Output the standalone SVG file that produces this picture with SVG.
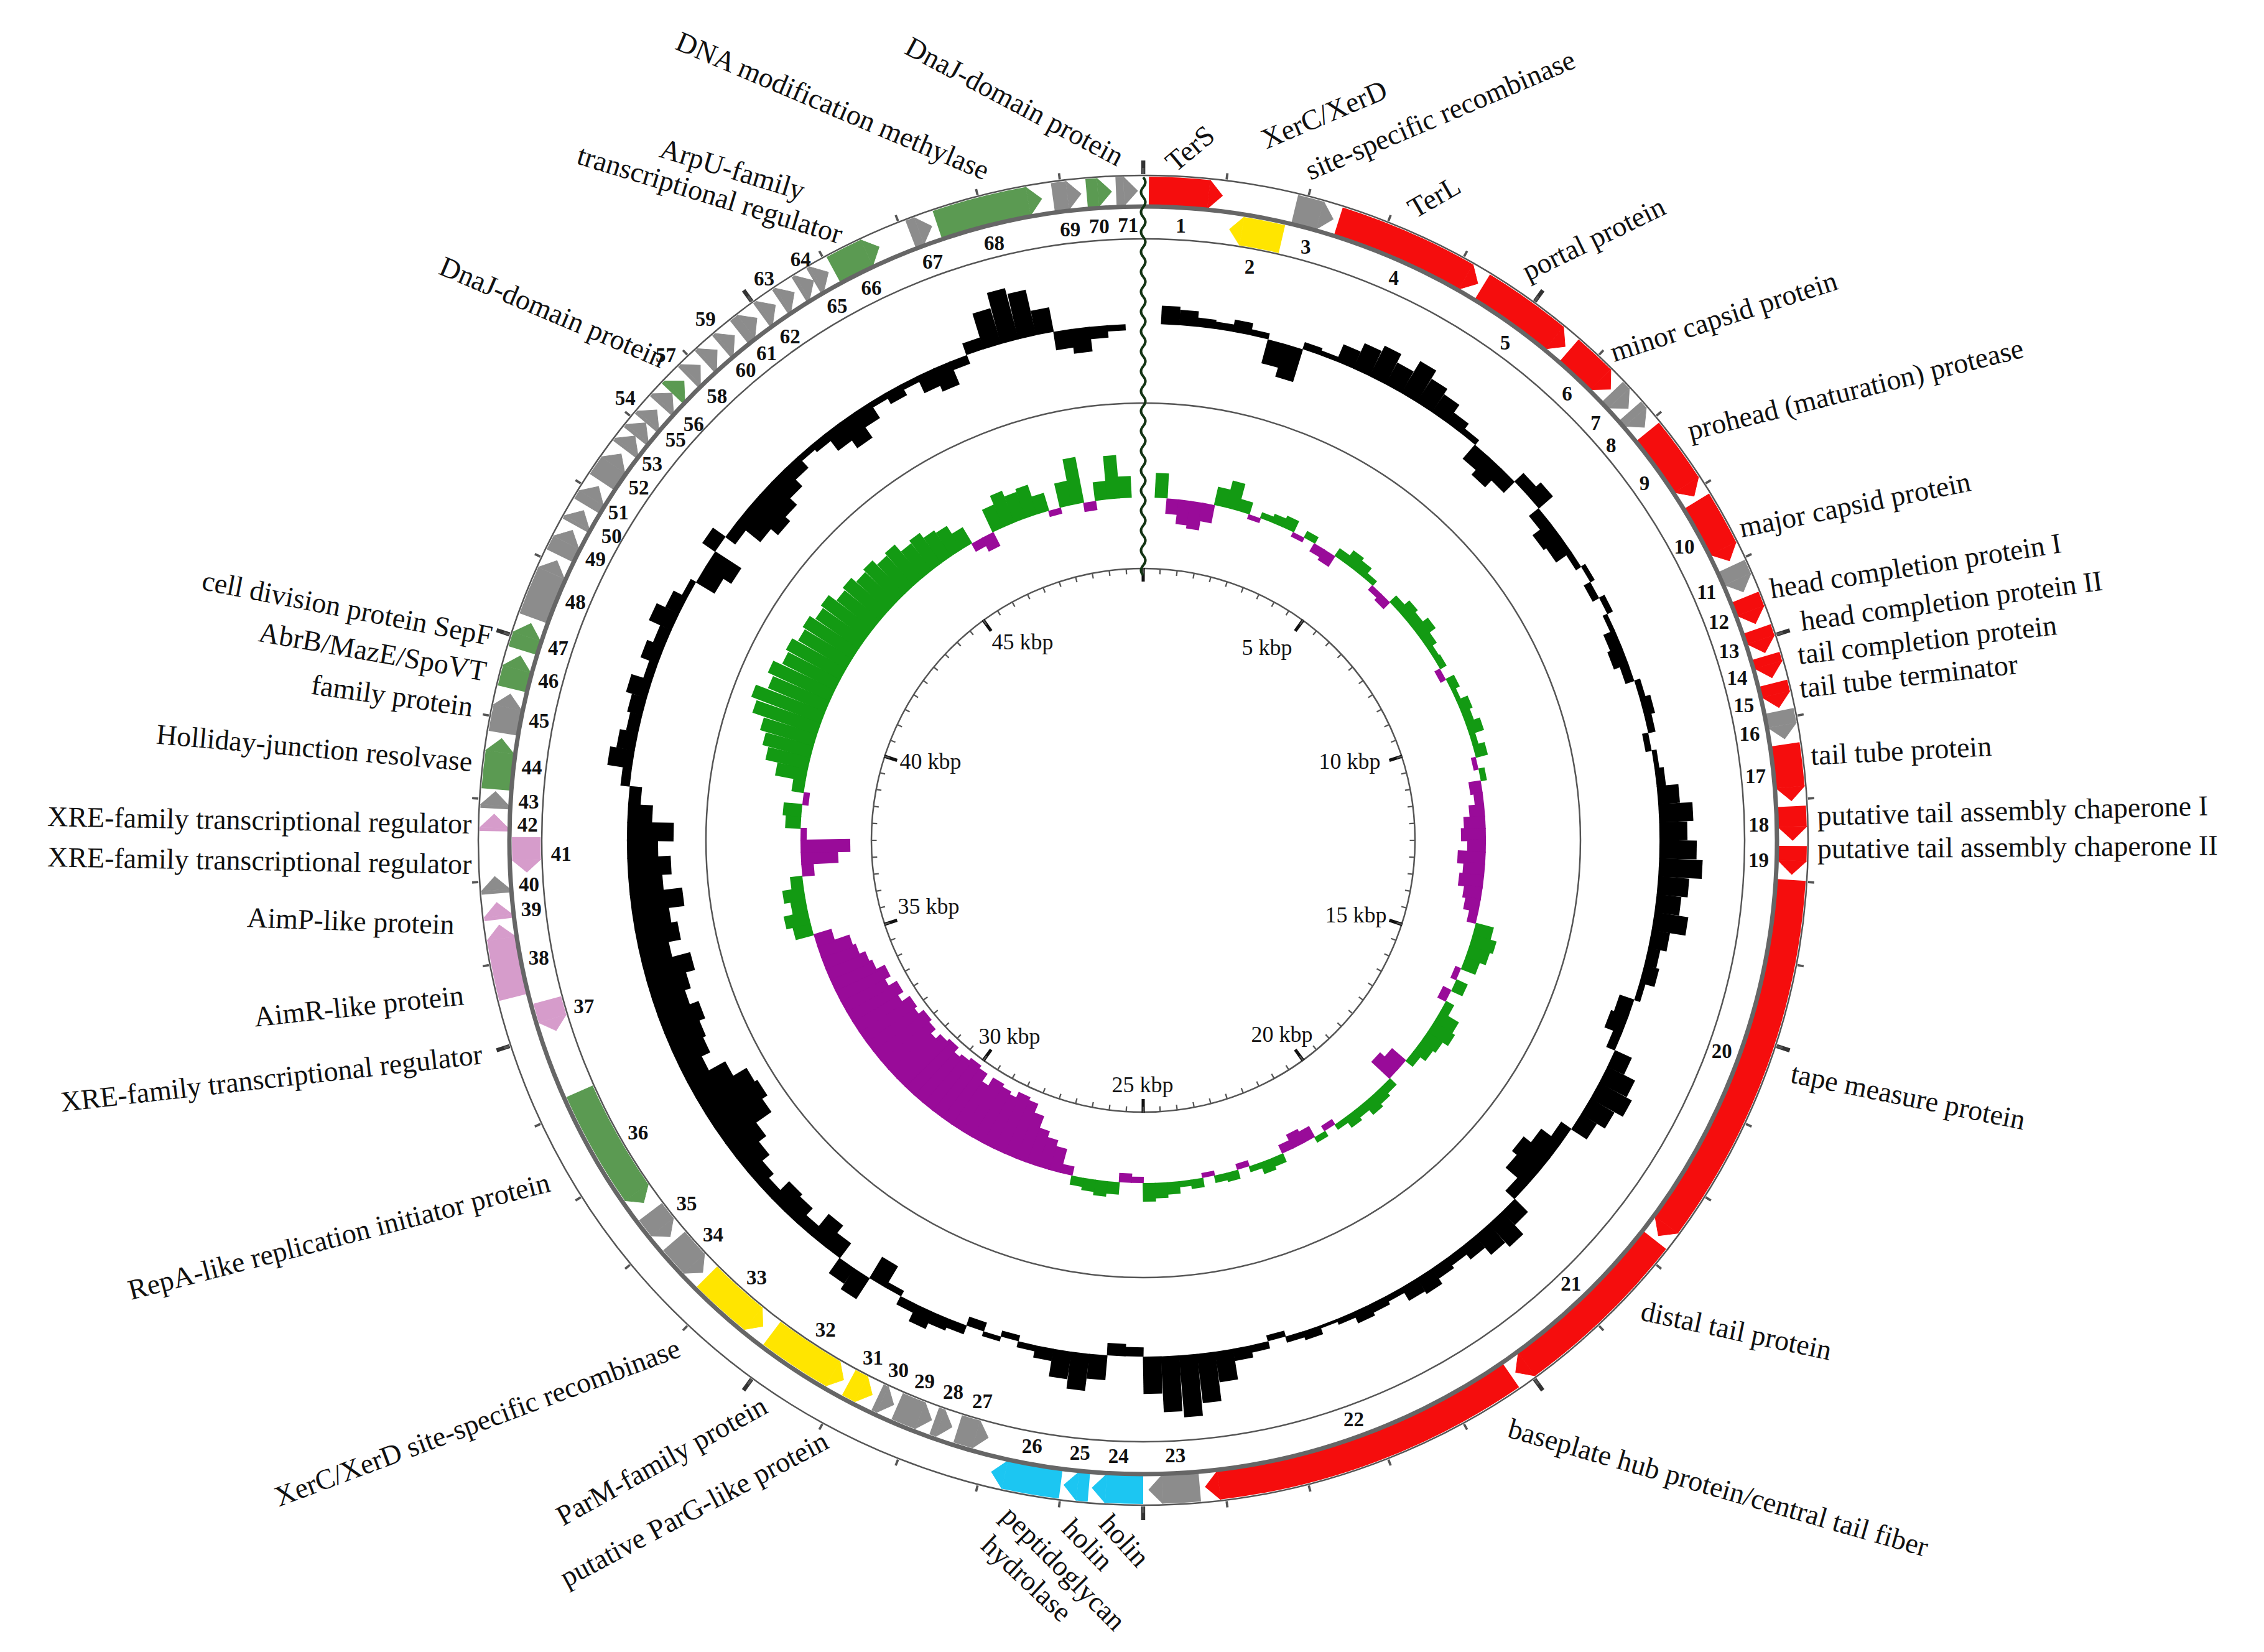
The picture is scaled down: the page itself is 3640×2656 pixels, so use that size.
<svg xmlns="http://www.w3.org/2000/svg" xmlns:xlink="http://www.w3.org/1999/xlink" width="3640" height="2656" viewBox="0 0 3640 2656">
<style>
.r{fill:#f50d0d;stroke:#f50d0d}.gy{fill:#8c8c8c;stroke:#8c8c8c}.gn{fill:#5b9a52;stroke:#5b9a52}.y{fill:#ffe500;stroke:#ffe500}.c{fill:#1cc6f2;stroke:#1cc6f2}.p{fill:#d69ccb;stroke:#d69ccb}
circle.o{fill:none;stroke-width:46}
use{stroke-width:1}
.ring{fill:none;stroke:#555;stroke-width:2.5}
.k line{stroke:#000;stroke-width:30}
.gg line{stroke:#139a13;stroke-width:21}
.pp line{stroke:#990b99;stroke-width:21}
.lab{font-family:"Liberation Serif",serif;font-size:46px;fill:#111}
.num{font-family:"Liberation Serif",serif;font-size:33px;font-weight:bold;fill:#111;text-anchor:middle}
.kb{font-family:"Liberation Serif",serif;font-size:36px;fill:#111;text-anchor:middle}
</style>
<defs>
<polygon id="tO" points="0,-1067 0,-1021 22,-1044"/>
<polygon id="tI" points="0,-1015 0,-969 -20,-992"/>
</defs>
<rect width="3640" height="2656" fill="#fff"/>
<g transform="translate(1838 1351)">
<g id="rings">
<circle class="ring" r="1069" stroke="#777" stroke-width="2"/>
<circle class="ring" r="967" stroke-width="2"/>
<circle class="ring" r="703"/>
<circle class="ring" r="437"/>
<circle r="1082" fill="none" stroke="#333" stroke-width="22" pathLength="360" stroke-dasharray="0.35 35.65" stroke-dashoffset="0.17" transform="rotate(-90)"/>
<circle r="1076" fill="none" stroke="#555" stroke-width="10" pathLength="360" stroke-dasharray="0.2 7" stroke-dashoffset="0.1" transform="rotate(-90)"/>
<circle r="427" fill="none" stroke="#111" stroke-width="22" pathLength="360" stroke-dasharray="0.7 35.3" stroke-dashoffset="0.35" transform="rotate(-90)"/>
<circle r="433" fill="none" stroke="#555" stroke-width="9" pathLength="360" stroke-dasharray="0.3 3.3" stroke-dashoffset="0.15" transform="rotate(-90)"/>
</g>
<g id="gc-content" class="k">
<line y1="-830" y2="-860" transform="rotate(3)"/><line y1="-830" y2="-855" transform="rotate(5)"/><line y1="-830" y2="-845" transform="rotate(7)"/><line y1="-830" y2="-842" transform="rotate(9)"/><line y1="-830" y2="-850" transform="rotate(11)"/><line y1="-830" y2="-840" transform="rotate(13)"/><line y1="-830" y2="-790" transform="rotate(15)"/><line y1="-830" y2="-775" transform="rotate(17)"/><line y1="-830" y2="-842" transform="rotate(19)"/><line y1="-830" y2="-838" transform="rotate(21)"/><line y1="-830" y2="-860" transform="rotate(23)"/><line y1="-830" y2="-875" transform="rotate(25)"/><line y1="-830" y2="-885" transform="rotate(27)"/><line y1="-830" y2="-870" transform="rotate(29)"/><line y1="-830" y2="-890" transform="rotate(31)"/><line y1="-830" y2="-875" transform="rotate(33)"/><line y1="-830" y2="-865" transform="rotate(35)"/><line y1="-830" y2="-850" transform="rotate(37)"/><line y1="-830" y2="-840" transform="rotate(39)"/><line y1="-830" y2="-800" transform="rotate(41)"/><line y1="-830" y2="-790" transform="rotate(43)"/><line y1="-830" y2="-805" transform="rotate(45)"/><line y1="-830" y2="-850" transform="rotate(47)"/><line y1="-830" y2="-860" transform="rotate(49)"/><line y1="-830" y2="-810" transform="rotate(51)"/><line y1="-830" y2="-795" transform="rotate(53)"/><line y1="-830" y2="-800" transform="rotate(55)"/><line y1="-830" y2="-820" transform="rotate(57)"/><line y1="-830" y2="-838" transform="rotate(59)"/><line y1="-830" y2="-818" transform="rotate(61)"/><line y1="-830" y2="-840" transform="rotate(63)"/><line y1="-830" y2="-822" transform="rotate(65)"/><line y1="-830" y2="-810" transform="rotate(67)"/><line y1="-830" y2="-805" transform="rotate(69)"/><line y1="-830" y2="-815" transform="rotate(71)"/><line y1="-830" y2="-840" transform="rotate(73)"/><line y1="-830" y2="-848" transform="rotate(75)"/><line y1="-830" y2="-842" transform="rotate(77)"/><line y1="-830" y2="-820" transform="rotate(79)"/><line y1="-830" y2="-838" transform="rotate(81)"/><line y1="-830" y2="-845" transform="rotate(83)"/><line y1="-830" y2="-865" transform="rotate(85)"/><line y1="-830" y2="-885" transform="rotate(87)"/><line y1="-830" y2="-875" transform="rotate(89)"/><line y1="-830" y2="-890" transform="rotate(91)"/><line y1="-830" y2="-900" transform="rotate(93)"/><line y1="-830" y2="-880" transform="rotate(95)"/><line y1="-830" y2="-870" transform="rotate(97)"/><line y1="-830" y2="-885" transform="rotate(99)"/><line y1="-830" y2="-860" transform="rotate(101)"/><line y1="-830" y2="-850" transform="rotate(103)"/><line y1="-830" y2="-855" transform="rotate(105)"/><line y1="-830" y2="-840" transform="rotate(107)"/><line y1="-830" y2="-805" transform="rotate(109)"/><line y1="-830" y2="-800" transform="rotate(111)"/><line y1="-830" y2="-815" transform="rotate(113)"/><line y1="-830" y2="-860" transform="rotate(115)"/><line y1="-830" y2="-880" transform="rotate(117)"/><line y1="-830" y2="-890" transform="rotate(119)"/><line y1="-830" y2="-875" transform="rotate(121)"/><line y1="-830" y2="-860" transform="rotate(123)"/><line y1="-830" y2="-810" transform="rotate(125)"/><line y1="-830" y2="-790" transform="rotate(127)"/><line y1="-830" y2="-775" transform="rotate(129)"/><line y1="-830" y2="-785" transform="rotate(131)"/><line y1="-830" y2="-810" transform="rotate(133)"/><line y1="-830" y2="-860" transform="rotate(135)"/><line y1="-830" y2="-880" transform="rotate(137)"/><line y1="-830" y2="-870" transform="rotate(139)"/><line y1="-830" y2="-855" transform="rotate(141)"/><line y1="-830" y2="-845" transform="rotate(143)"/><line y1="-830" y2="-850" transform="rotate(145)"/><line y1="-830" y2="-860" transform="rotate(147)"/><line y1="-830" y2="-855" transform="rotate(149)"/><line y1="-830" y2="-840" transform="rotate(151)"/><line y1="-830" y2="-845" transform="rotate(153)"/><line y1="-830" y2="-850" transform="rotate(155)"/><line y1="-830" y2="-840" transform="rotate(157)"/><line y1="-830" y2="-835" transform="rotate(159)"/><line y1="-830" y2="-845" transform="rotate(161)"/><line y1="-830" y2="-840" transform="rotate(163)"/><line y1="-830" y2="-820" transform="rotate(165)"/><line y1="-830" y2="-842" transform="rotate(167)"/><line y1="-830" y2="-850" transform="rotate(169)"/><line y1="-830" y2="-880" transform="rotate(171)"/><line y1="-830" y2="-910" transform="rotate(173)"/><line y1="-830" y2="-930" transform="rotate(175)"/><line y1="-830" y2="-920" transform="rotate(177)"/><line y1="-830" y2="-890" transform="rotate(179)"/><line y1="-830" y2="-815" transform="rotate(181)"/><line y1="-830" y2="-810" transform="rotate(183)"/><line y1="-830" y2="-870" transform="rotate(185)"/><line y1="-830" y2="-890" transform="rotate(187)"/><line y1="-830" y2="-875" transform="rotate(189)"/><line y1="-830" y2="-850" transform="rotate(191)"/><line y1="-830" y2="-840" transform="rotate(193)"/><line y1="-830" y2="-820" transform="rotate(195)"/><line y1="-830" y2="-838" transform="rotate(197)"/><line y1="-830" y2="-815" transform="rotate(199)"/><line y1="-830" y2="-845" transform="rotate(201)"/><line y1="-830" y2="-850" transform="rotate(203)"/><line y1="-830" y2="-860" transform="rotate(205)"/><line y1="-830" y2="-845" transform="rotate(207)"/><line y1="-830" y2="-820" transform="rotate(209)"/><line y1="-830" y2="-790" transform="rotate(211)"/><line y1="-830" y2="-870" transform="rotate(213)"/><line y1="-830" y2="-860" transform="rotate(215)"/><line y1="-830" y2="-800" transform="rotate(217)"/><line y1="-830" y2="-785" transform="rotate(219)"/><line y1="-830" y2="-810" transform="rotate(221)"/><line y1="-830" y2="-795" transform="rotate(223)"/><line y1="-830" y2="-790" transform="rotate(225)"/><line y1="-830" y2="-810" transform="rotate(227)"/><line y1="-830" y2="-800" transform="rotate(229)"/><line y1="-830" y2="-785" transform="rotate(231)"/><line y1="-830" y2="-770" transform="rotate(233)"/><line y1="-830" y2="-740" transform="rotate(235)"/><line y1="-830" y2="-730" transform="rotate(237)"/><line y1="-830" y2="-735" transform="rotate(239)"/><line y1="-830" y2="-760" transform="rotate(241)"/><line y1="-830" y2="-790" transform="rotate(243)"/><line y1="-830" y2="-775" transform="rotate(245)"/><line y1="-830" y2="-770" transform="rotate(247)"/><line y1="-830" y2="-760" transform="rotate(249)"/><line y1="-830" y2="-775" transform="rotate(251)"/><line y1="-830" y2="-765" transform="rotate(253)"/><line y1="-830" y2="-750" transform="rotate(255)"/><line y1="-830" y2="-780" transform="rotate(257)"/><line y1="-830" y2="-760" transform="rotate(259)"/><line y1="-830" y2="-770" transform="rotate(261)"/><line y1="-830" y2="-745" transform="rotate(263)"/><line y1="-830" y2="-775" transform="rotate(265)"/><line y1="-830" y2="-760" transform="rotate(267)"/><line y1="-830" y2="-780" transform="rotate(269)"/><line y1="-830" y2="-755" transform="rotate(271)"/><line y1="-830" y2="-790" transform="rotate(273)"/><line y1="-830" y2="-810" transform="rotate(275)"/><line y1="-830" y2="-845" transform="rotate(277)"/><line y1="-830" y2="-870" transform="rotate(279)"/><line y1="-830" y2="-860" transform="rotate(281)"/><line y1="-830" y2="-850" transform="rotate(283)"/><line y1="-830" y2="-855" transform="rotate(285)"/><line y1="-830" y2="-865" transform="rotate(287)"/><line y1="-830" y2="-845" transform="rotate(289)"/><line y1="-830" y2="-860" transform="rotate(291)"/><line y1="-830" y2="-850" transform="rotate(293)"/><line y1="-830" y2="-870" transform="rotate(295)"/><line y1="-830" y2="-855" transform="rotate(297)"/><line y1="-830" y2="-840" transform="rotate(299)"/><line y1="-830" y2="-795" transform="rotate(301)"/><line y1="-830" y2="-780" transform="rotate(303)"/><line y1="-830" y2="-855" transform="rotate(305)"/><line y1="-830" y2="-810" transform="rotate(307)"/><line y1="-830" y2="-780" transform="rotate(309)"/><line y1="-830" y2="-765" transform="rotate(311)"/><line y1="-830" y2="-775" transform="rotate(313)"/><line y1="-830" y2="-790" transform="rotate(315)"/><line y1="-830" y2="-805" transform="rotate(317)"/><line y1="-830" y2="-820" transform="rotate(319)"/><line y1="-830" y2="-815" transform="rotate(321)"/><line y1="-830" y2="-795" transform="rotate(323)"/><line y1="-830" y2="-780" transform="rotate(325)"/><line y1="-830" y2="-800" transform="rotate(327)"/><line y1="-830" y2="-820" transform="rotate(329)"/><line y1="-830" y2="-810" transform="rotate(331)"/><line y1="-830" y2="-820" transform="rotate(333)"/><line y1="-830" y2="-800" transform="rotate(335)"/><line y1="-830" y2="-790" transform="rotate(337)"/><line y1="-830" y2="-815" transform="rotate(339)"/><line y1="-830" y2="-850" transform="rotate(341)"/><line y1="-830" y2="-890" transform="rotate(343)"/><line y1="-830" y2="-915" transform="rotate(345)"/><line y1="-830" y2="-905" transform="rotate(347)"/><line y1="-830" y2="-870" transform="rotate(349)"/><line y1="-830" y2="-800" transform="rotate(351)"/><line y1="-830" y2="-790" transform="rotate(353)"/><line y1="-830" y2="-810" transform="rotate(355)"/><line y1="-830" y2="-820" transform="rotate(357)"/>
</g>
<g id="gc-skew-pos" class="gg">
<line y1="-551" y2="-591" transform="rotate(3)"/><line y1="-551" y2="-581" transform="rotate(13)"/><line y1="-551" y2="-596" transform="rotate(15)"/><line y1="-551" y2="-571" transform="rotate(17)"/><line y1="-551" y2="-561" transform="rotate(21)"/><line y1="-551" y2="-566" transform="rotate(23)"/><line y1="-551" y2="-571" transform="rotate(25)"/><line y1="-551" y2="-563" transform="rotate(29)"/><line y1="-551" y2="-566" transform="rotate(35)"/><line y1="-551" y2="-576" transform="rotate(37)"/><line y1="-551" y2="-571" transform="rotate(39)"/><line y1="-551" y2="-561" transform="rotate(41)"/><line y1="-551" y2="-566" transform="rotate(47)"/><line y1="-551" y2="-576" transform="rotate(49)"/><line y1="-551" y2="-571" transform="rotate(51)"/><line y1="-551" y2="-581" transform="rotate(53)"/><line y1="-551" y2="-569" transform="rotate(55)"/><line y1="-551" y2="-561" transform="rotate(57)"/><line y1="-551" y2="-563" transform="rotate(59)"/><line y1="-551" y2="-566" transform="rotate(63)"/><line y1="-551" y2="-559" transform="rotate(65)"/><line y1="-551" y2="-571" transform="rotate(67)"/><line y1="-551" y2="-566" transform="rotate(69)"/><line y1="-551" y2="-576" transform="rotate(71)"/><line y1="-551" y2="-561" transform="rotate(73)"/><line y1="-551" y2="-571" transform="rotate(75)"/><line y1="-551" y2="-561" transform="rotate(79)"/><line y1="-551" y2="-581" transform="rotate(105)"/><line y1="-551" y2="-591" transform="rotate(107)"/><line y1="-551" y2="-586" transform="rotate(109)"/><line y1="-551" y2="-576" transform="rotate(111)"/><line y1="-551" y2="-571" transform="rotate(115)"/><line y1="-551" y2="-566" transform="rotate(119)"/><line y1="-551" y2="-586" transform="rotate(121)"/><line y1="-551" y2="-591" transform="rotate(123)"/><line y1="-551" y2="-581" transform="rotate(125)"/><line y1="-551" y2="-576" transform="rotate(127)"/><line y1="-551" y2="-566" transform="rotate(129)"/><line y1="-551" y2="-566" transform="rotate(135)"/><line y1="-551" y2="-571" transform="rotate(137)"/><line y1="-551" y2="-576" transform="rotate(139)"/><line y1="-551" y2="-566" transform="rotate(141)"/><line y1="-551" y2="-571" transform="rotate(143)"/><line y1="-551" y2="-561" transform="rotate(145)"/><line y1="-551" y2="-561" transform="rotate(149)"/><line y1="-551" y2="-566" transform="rotate(157)"/><line y1="-551" y2="-571" transform="rotate(159)"/><line y1="-551" y2="-561" transform="rotate(161)"/><line y1="-551" y2="-566" transform="rotate(165)"/><line y1="-551" y2="-563" transform="rotate(167)"/><line y1="-551" y2="-566" transform="rotate(171)"/><line y1="-551" y2="-561" transform="rotate(173)"/><line y1="-551" y2="-571" transform="rotate(175)"/><line y1="-551" y2="-576" transform="rotate(177)"/><line y1="-551" y2="-581" transform="rotate(179)"/><line y1="-551" y2="-571" transform="rotate(185)"/><line y1="-551" y2="-576" transform="rotate(187)"/><line y1="-551" y2="-571" transform="rotate(189)"/><line y1="-551" y2="-566" transform="rotate(191)"/><line y1="-551" y2="-581" transform="rotate(255)"/><line y1="-551" y2="-591" transform="rotate(257)"/><line y1="-551" y2="-576" transform="rotate(259)"/><line y1="-551" y2="-586" transform="rotate(261)"/><line y1="-551" y2="-571" transform="rotate(263)"/><line y1="-551" y2="-576" transform="rotate(273)"/><line y1="-551" y2="-581" transform="rotate(275)"/><line y1="-551" y2="-571" transform="rotate(279)"/><line y1="-551" y2="-601" transform="rotate(281)"/><line y1="-551" y2="-621" transform="rotate(283)"/><line y1="-551" y2="-631" transform="rotate(285)"/><line y1="-551" y2="-641" transform="rotate(287)"/><line y1="-551" y2="-661" transform="rotate(289)"/><line y1="-551" y2="-671" transform="rotate(291)"/><line y1="-551" y2="-651" transform="rotate(293)"/><line y1="-551" y2="-661" transform="rotate(295)"/><line y1="-551" y2="-646" transform="rotate(297)"/><line y1="-551" y2="-651" transform="rotate(299)"/><line y1="-551" y2="-641" transform="rotate(301)"/><line y1="-551" y2="-646" transform="rotate(303)"/><line y1="-551" y2="-636" transform="rotate(305)"/><line y1="-551" y2="-641" transform="rotate(307)"/><line y1="-551" y2="-626" transform="rotate(309)"/><line y1="-551" y2="-631" transform="rotate(311)"/><line y1="-551" y2="-621" transform="rotate(313)"/><line y1="-551" y2="-626" transform="rotate(315)"/><line y1="-551" y2="-616" transform="rotate(317)"/><line y1="-551" y2="-621" transform="rotate(319)"/><line y1="-551" y2="-606" transform="rotate(321)"/><line y1="-551" y2="-611" transform="rotate(323)"/><line y1="-551" y2="-601" transform="rotate(325)"/><line y1="-551" y2="-596" transform="rotate(327)"/><line y1="-551" y2="-581" transform="rotate(329)"/><line y1="-551" y2="-591" transform="rotate(335)"/><line y1="-551" y2="-606" transform="rotate(337)"/><line y1="-551" y2="-596" transform="rotate(339)"/><line y1="-551" y2="-601" transform="rotate(341)"/><line y1="-551" y2="-581" transform="rotate(343)"/><line y1="-551" y2="-591" transform="rotate(347)"/><line y1="-551" y2="-626" transform="rotate(349)"/><line y1="-551" y2="-581" transform="rotate(353)"/><line y1="-551" y2="-621" transform="rotate(355)"/><line y1="-551" y2="-586" transform="rotate(357)"/>
</g>
<g id="gc-skew-neg" class="pp">
<line y1="-551" y2="-526" transform="rotate(5)"/><line y1="-551" y2="-511" transform="rotate(7)"/><line y1="-551" y2="-506" transform="rotate(9)"/><line y1="-551" y2="-521" transform="rotate(11)"/><line y1="-551" y2="-543" transform="rotate(19)"/><line y1="-551" y2="-543" transform="rotate(27)"/><line y1="-551" y2="-536" transform="rotate(31)"/><line y1="-551" y2="-531" transform="rotate(33)"/><line y1="-551" y2="-541" transform="rotate(43)"/><line y1="-551" y2="-536" transform="rotate(45)"/><line y1="-551" y2="-541" transform="rotate(61)"/><line y1="-551" y2="-543" transform="rotate(77)"/><line y1="-551" y2="-531" transform="rotate(81)"/><line y1="-551" y2="-536" transform="rotate(83)"/><line y1="-551" y2="-526" transform="rotate(85)"/><line y1="-551" y2="-516" transform="rotate(87)"/><line y1="-551" y2="-511" transform="rotate(89)"/><line y1="-551" y2="-521" transform="rotate(91)"/><line y1="-551" y2="-506" transform="rotate(93)"/><line y1="-551" y2="-516" transform="rotate(95)"/><line y1="-551" y2="-511" transform="rotate(97)"/><line y1="-551" y2="-521" transform="rotate(99)"/><line y1="-551" y2="-526" transform="rotate(101)"/><line y1="-551" y2="-536" transform="rotate(103)"/><line y1="-551" y2="-541" transform="rotate(113)"/><line y1="-551" y2="-536" transform="rotate(117)"/><line y1="-551" y2="-521" transform="rotate(131)"/><line y1="-551" y2="-511" transform="rotate(133)"/><line y1="-551" y2="-541" transform="rotate(147)"/><line y1="-551" y2="-531" transform="rotate(151)"/><line y1="-551" y2="-526" transform="rotate(153)"/><line y1="-551" y2="-536" transform="rotate(155)"/><line y1="-551" y2="-541" transform="rotate(163)"/><line y1="-551" y2="-543" transform="rotate(169)"/><line y1="-551" y2="-541" transform="rotate(181)"/><line y1="-551" y2="-536" transform="rotate(183)"/><line y1="-551" y2="-536" transform="rotate(193)"/><line y1="-551" y2="-511" transform="rotate(195)"/><line y1="-551" y2="-501" transform="rotate(197)"/><line y1="-551" y2="-491" transform="rotate(199)"/><line y1="-551" y2="-471" transform="rotate(201)"/><line y1="-551" y2="-456" transform="rotate(203)"/><line y1="-551" y2="-451" transform="rotate(205)"/><line y1="-551" y2="-461" transform="rotate(207)"/><line y1="-551" y2="-456" transform="rotate(209)"/><line y1="-551" y2="-451" transform="rotate(211)"/><line y1="-551" y2="-466" transform="rotate(213)"/><line y1="-551" y2="-451" transform="rotate(215)"/><line y1="-551" y2="-446" transform="rotate(217)"/><line y1="-551" y2="-451" transform="rotate(219)"/><line y1="-551" y2="-456" transform="rotate(221)"/><line y1="-551" y2="-446" transform="rotate(223)"/><line y1="-551" y2="-451" transform="rotate(225)"/><line y1="-551" y2="-461" transform="rotate(227)"/><line y1="-551" y2="-451" transform="rotate(229)"/><line y1="-551" y2="-446" transform="rotate(231)"/><line y1="-551" y2="-456" transform="rotate(233)"/><line y1="-551" y2="-451" transform="rotate(235)"/><line y1="-551" y2="-466" transform="rotate(237)"/><line y1="-551" y2="-456" transform="rotate(239)"/><line y1="-551" y2="-471" transform="rotate(241)"/><line y1="-551" y2="-461" transform="rotate(243)"/><line y1="-551" y2="-476" transform="rotate(245)"/><line y1="-551" y2="-481" transform="rotate(247)"/><line y1="-551" y2="-491" transform="rotate(249)"/><line y1="-551" y2="-496" transform="rotate(251)"/><line y1="-551" y2="-521" transform="rotate(253)"/><line y1="-551" y2="-531" transform="rotate(265)"/><line y1="-551" y2="-491" transform="rotate(267)"/><line y1="-551" y2="-471" transform="rotate(269)"/><line y1="-551" y2="-541" transform="rotate(271)"/><line y1="-551" y2="-541" transform="rotate(277)"/><line y1="-551" y2="-536" transform="rotate(331)"/><line y1="-551" y2="-526" transform="rotate(333)"/><line y1="-551" y2="-541" transform="rotate(345)"/><line y1="-551" y2="-536" transform="rotate(351)"/>
</g>
<g id="genes">
<g id="gene-1"><circle class="o r" r="1044" pathLength="360" stroke-dasharray="5.3 400" transform="rotate(-89.5)"/><use href="#tO" class="r" transform="rotate(5.8)"/></g>
<g id="gene-2"><circle class="o y" r="992" pathLength="360" stroke-dasharray="3.8 400" transform="rotate(-80.8)"/><use href="#tI" class="y" transform="rotate(9.2)"/></g>
<g id="gene-3"><circle class="o gy" r="1044" pathLength="360" stroke-dasharray="2.3 400" transform="rotate(-76.5)"/><use href="#tO" class="gy" transform="rotate(15.8)"/></g>
<g id="gene-4"><circle class="o r" r="1044" pathLength="360" stroke-dasharray="12.3 400" transform="rotate(-72.5)"/><use href="#tO" class="r" transform="rotate(29.8)"/></g>
<g id="gene-5"><circle class="o r" r="1044" pathLength="360" stroke-dasharray="7.8 400" transform="rotate(-58.5)"/><use href="#tO" class="r" transform="rotate(39.3)"/></g>
<g id="gene-6"><circle class="o r" r="1044" pathLength="360" stroke-dasharray="3.8 400" transform="rotate(-49)"/><use href="#tO" class="r" transform="rotate(44.8)"/></g>
<g id="gene-7"><circle class="o gy" r="1044" pathLength="360" stroke-dasharray="0.8 400" transform="rotate(-43.7)"/><use href="#tO" class="gy" transform="rotate(47.1)"/></g>
<g id="gene-8"><circle class="o gy" r="1044" pathLength="360" stroke-dasharray="0.7 400" transform="rotate(-41.4)"/><use href="#tO" class="gy" transform="rotate(49.3)"/></g>
<g id="gene-9"><circle class="o r" r="1044" pathLength="360" stroke-dasharray="5.8 400" transform="rotate(-39)"/><use href="#tO" class="r" transform="rotate(56.8)"/></g>
<g id="gene-10"><circle class="o r" r="1044" pathLength="360" stroke-dasharray="4.8 400" transform="rotate(-31.5)"/><use href="#tO" class="r" transform="rotate(63.3)"/></g>
<g id="gene-11"><circle class="o gy" r="1044" pathLength="360" stroke-dasharray="1.3 400" transform="rotate(-25)"/><use href="#tO" class="gy" transform="rotate(66.3)"/></g>
<g id="gene-12"><circle class="o r" r="1044" pathLength="360" stroke-dasharray="1.3 400" transform="rotate(-22)"/><use href="#tO" class="r" transform="rotate(69.3)"/></g>
<g id="gene-13"><circle class="o r" r="1044" pathLength="360" stroke-dasharray="1.0 400" transform="rotate(-19)"/><use href="#tO" class="r" transform="rotate(72)"/></g>
<g id="gene-14"><circle class="o r" r="1044" pathLength="360" stroke-dasharray="0.8 400" transform="rotate(-16.5)"/><use href="#tO" class="r" transform="rotate(74.3)"/></g>
<g id="gene-15"><circle class="o r" r="1044" pathLength="360" stroke-dasharray="1.0 400" transform="rotate(-14)"/><use href="#tO" class="r" transform="rotate(77)"/></g>
<g id="gene-16"><circle class="o gy" r="1044" pathLength="360" stroke-dasharray="1.3 400" transform="rotate(-11.5)"/><use href="#tO" class="gy" transform="rotate(79.8)"/></g>
<g id="gene-17"><circle class="o r" r="1044" pathLength="360" stroke-dasharray="3.8 400" transform="rotate(-8.5)"/><use href="#tO" class="r" transform="rotate(85.3)"/></g>
<g id="gene-18"><circle class="o r" r="1044" pathLength="360" stroke-dasharray="1.8 400" transform="rotate(-3)"/><use href="#tO" class="r" transform="rotate(88.8)"/></g>
<g id="gene-19"><circle class="o r" r="1044" pathLength="360" stroke-dasharray="1.3 400" transform="rotate(0.5)"/><use href="#tO" class="r" transform="rotate(91.8)"/></g>
<g id="gene-20"><circle class="o r" r="1044" pathLength="360" stroke-dasharray="32.8 400" transform="rotate(3.5)"/><use href="#tO" class="r" transform="rotate(126.3)"/></g>
<g id="gene-21"><circle class="o r" r="1044" pathLength="360" stroke-dasharray="15.8 400" transform="rotate(38)"/><use href="#tO" class="r" transform="rotate(143.8)"/></g>
<g id="gene-22"><circle class="o r" r="1044" pathLength="360" stroke-dasharray="27.8 400" transform="rotate(55.5)"/><use href="#tO" class="r" transform="rotate(173.3)"/></g>
<g id="gene-23"><circle class="o gy" r="1044" pathLength="360" stroke-dasharray="3.3 400" transform="rotate(85)"/><use href="#tO" class="gy" transform="rotate(178.3)"/></g>
<g id="gene-24"><circle class="o c" r="1044" pathLength="360" stroke-dasharray="3.3 400" transform="rotate(90)"/><use href="#tO" class="c" transform="rotate(183.3)"/></g>
<g id="gene-25"><circle class="o c" r="1044" pathLength="360" stroke-dasharray="1.0 400" transform="rotate(94.8)"/><use href="#tO" class="c" transform="rotate(185.8)"/></g>
<g id="gene-26"><circle class="o c" r="1044" pathLength="360" stroke-dasharray="5.0 400" transform="rotate(97.3)"/><use href="#tO" class="c" transform="rotate(192.3)"/></g>
<g id="gene-27"><circle class="o gy" r="992" pathLength="360" stroke-dasharray="1.8 400" transform="rotate(105.7)"/><use href="#tI" class="gy" transform="rotate(195.7)"/></g>
<g id="gene-28"><circle class="o gy" r="992" pathLength="360" stroke-dasharray="0.6 400" transform="rotate(109.2)"/><use href="#tI" class="gy" transform="rotate(199.2)"/></g>
<g id="gene-29"><circle class="o gy" r="992" pathLength="360" stroke-dasharray="2.3 400" transform="rotate(111.2)"/><use href="#tI" class="gy" transform="rotate(201.2)"/></g>
<g id="gene-30"><circle class="o gy" r="992" pathLength="360" stroke-dasharray="0.5 400" transform="rotate(115)"/><use href="#tI" class="gy" transform="rotate(205)"/></g>
<g id="gene-31"><circle class="o y" r="992" pathLength="360" stroke-dasharray="1.3 400" transform="rotate(117.2)"/><use href="#tI" class="y" transform="rotate(207.2)"/></g>
<g id="gene-32"><circle class="o y" r="992" pathLength="360" stroke-dasharray="6.8 400" transform="rotate(120.2)"/><use href="#tI" class="y" transform="rotate(210.2)"/></g>
<g id="gene-33"><circle class="o y" r="992" pathLength="360" stroke-dasharray="5.8 400" transform="rotate(129.2)"/><use href="#tI" class="y" transform="rotate(219.2)"/></g>
<g id="gene-34"><circle class="o gy" r="992" pathLength="360" stroke-dasharray="2.8 400" transform="rotate(136.7)"/><use href="#tI" class="gy" transform="rotate(226.7)"/></g>
<g id="gene-35"><circle class="o gy" r="992" pathLength="360" stroke-dasharray="1.8 400" transform="rotate(141.2)"/><use href="#tI" class="gy" transform="rotate(231.2)"/></g>
<g id="gene-36"><circle class="o gn" r="992" pathLength="360" stroke-dasharray="10.8 400" transform="rotate(145.2)"/><use href="#tI" class="gn" transform="rotate(235.2)"/></g>
<g id="gene-37"><circle class="o p" r="992" pathLength="360" stroke-dasharray="1.8 400" transform="rotate(163.2)"/><use href="#tI" class="p" transform="rotate(253.2)"/></g>
<g id="gene-38"><circle class="o p" r="1044" pathLength="360" stroke-dasharray="5.3 400" transform="rotate(166)"/><use href="#tO" class="p" transform="rotate(261.3)"/></g>
<g id="gene-39"><circle class="o p" r="1044" pathLength="360" stroke-dasharray="0.3 400" transform="rotate(173)"/><use href="#tO" class="p" transform="rotate(263.3)"/></g>
<g id="gene-40"><circle class="o gy" r="1044" pathLength="360" stroke-dasharray="0.3 400" transform="rotate(175.3)"/><use href="#tO" class="gy" transform="rotate(265.6)"/></g>
<g id="gene-41"><circle class="o p" r="992" pathLength="360" stroke-dasharray="2.1 400" transform="rotate(178.2)"/><use href="#tI" class="p" transform="rotate(268.2)"/></g>
<g id="gene-42"><circle class="o p" r="1044" pathLength="360" stroke-dasharray="0.3 400" transform="rotate(180.8)"/><use href="#tO" class="p" transform="rotate(271.1)"/></g>
<g id="gene-43"><circle class="o gy" r="1044" pathLength="360" stroke-dasharray="0.3 400" transform="rotate(182.8)"/><use href="#tO" class="gy" transform="rotate(273.1)"/></g>
<g id="gene-44"><circle class="o gn" r="1044" pathLength="360" stroke-dasharray="3.3 400" transform="rotate(184.5)"/><use href="#tO" class="gn" transform="rotate(277.8)"/></g>
<g id="gene-45"><circle class="o gy" r="1044" pathLength="360" stroke-dasharray="2.3 400" transform="rotate(189.5)"/><use href="#tO" class="gy" transform="rotate(281.8)"/></g>
<g id="gene-46"><circle class="o gn" r="1044" pathLength="360" stroke-dasharray="1.8 400" transform="rotate(193.5)"/><use href="#tO" class="gn" transform="rotate(285.3)"/></g>
<g id="gene-47"><circle class="o gn" r="1044" pathLength="360" stroke-dasharray="1.3 400" transform="rotate(197)"/><use href="#tO" class="gn" transform="rotate(288.3)"/></g>
<g id="gene-48"><circle class="o gy" r="1044" pathLength="360" stroke-dasharray="4.3 400" transform="rotate(200)"/><use href="#tO" class="gy" transform="rotate(294.3)"/></g>
<g id="gene-49"><circle class="o gy" r="1044" pathLength="360" stroke-dasharray="1.3 400" transform="rotate(206)"/><use href="#tO" class="gy" transform="rotate(297.3)"/></g>
<g id="gene-50"><circle class="o gy" r="1044" pathLength="360" stroke-dasharray="0.3 400" transform="rotate(209)"/><use href="#tO" class="gy" transform="rotate(299.3)"/></g>
<g id="gene-51"><circle class="o gy" r="1044" pathLength="360" stroke-dasharray="0.8 400" transform="rotate(211)"/><use href="#tO" class="gy" transform="rotate(301.8)"/></g>
<g id="gene-52"><circle class="o gy" r="1044" pathLength="360" stroke-dasharray="1.8 400" transform="rotate(213.5)"/><use href="#tO" class="gy" transform="rotate(305.3)"/></g>
<g id="gene-53"><circle class="o gy" r="1044" pathLength="360" stroke-dasharray="0.3 400" transform="rotate(217)"/><use href="#tO" class="gy" transform="rotate(307.3)"/></g>
<g id="gene-54"><circle class="o gy" r="1044" pathLength="360" stroke-dasharray="0.3 400" transform="rotate(218.5)"/><use href="#tO" class="gy" transform="rotate(308.8)"/></g>
<g id="gene-55"><circle class="o gy" r="1044" pathLength="360" stroke-dasharray="0.3 400" transform="rotate(220)"/><use href="#tO" class="gy" transform="rotate(310.3)"/></g>
<g id="gene-56"><circle class="o gy" r="1044" pathLength="360" stroke-dasharray="0.3 400" transform="rotate(222)"/><use href="#tO" class="gy" transform="rotate(312.3)"/></g>
<g id="gene-57"><circle class="o gn" r="1044" pathLength="360" stroke-dasharray="0.3 400" transform="rotate(223.5)"/><use href="#tO" class="gn" transform="rotate(313.8)"/></g>
<g id="gene-58"><circle class="o gy" r="1044" pathLength="360" stroke-dasharray="0.3 400" transform="rotate(225.5)"/><use href="#tO" class="gy" transform="rotate(315.8)"/></g>
<g id="gene-59"><circle class="o gy" r="1044" pathLength="360" stroke-dasharray="0.3 400" transform="rotate(227.5)"/><use href="#tO" class="gy" transform="rotate(317.8)"/></g>
<g id="gene-60"><circle class="o gy" r="1044" pathLength="360" stroke-dasharray="0.3 400" transform="rotate(229.5)"/><use href="#tO" class="gy" transform="rotate(319.8)"/></g>
<g id="gene-61"><circle class="o gy" r="1044" pathLength="360" stroke-dasharray="0.8 400" transform="rotate(231.5)"/><use href="#tO" class="gy" transform="rotate(322.3)"/></g>
<g id="gene-62"><circle class="o gy" r="1044" pathLength="360" stroke-dasharray="0.3 400" transform="rotate(234)"/><use href="#tO" class="gy" transform="rotate(324.3)"/></g>
<g id="gene-63"><circle class="o gy" r="1044" pathLength="360" stroke-dasharray="0.3 400" transform="rotate(236)"/><use href="#tO" class="gy" transform="rotate(326.3)"/></g>
<g id="gene-64"><circle class="o gy" r="1044" pathLength="360" stroke-dasharray="0.3 400" transform="rotate(238)"/><use href="#tO" class="gy" transform="rotate(328.3)"/></g>
<g id="gene-65"><circle class="o gy" r="1044" pathLength="360" stroke-dasharray="0.3 400" transform="rotate(239.5)"/><use href="#tO" class="gy" transform="rotate(329.8)"/></g>
<g id="gene-66"><circle class="o gn" r="1044" pathLength="360" stroke-dasharray="3.3 400" transform="rotate(241.5)"/><use href="#tO" class="gn" transform="rotate(334.8)"/></g>
<g id="gene-67"><circle class="o gy" r="1044" pathLength="360" stroke-dasharray="0.8 400" transform="rotate(249)"/><use href="#tO" class="gy" transform="rotate(339.8)"/></g>
<g id="gene-68"><circle class="o gn" r="1044" pathLength="360" stroke-dasharray="8.3 400" transform="rotate(251.5)"/><use href="#tO" class="gn" transform="rotate(349.8)"/></g>
<g id="gene-69"><circle class="o gy" r="1044" pathLength="360" stroke-dasharray="1.3 400" transform="rotate(262)"/><use href="#tO" class="gy" transform="rotate(353.3)"/></g>
<g id="gene-70"><circle class="o gn" r="1044" pathLength="360" stroke-dasharray="1.0 400" transform="rotate(265)"/><use href="#tO" class="gn" transform="rotate(356)"/></g>
<g id="gene-71"><circle class="o gy" r="1044" pathLength="360" stroke-dasharray="0.7 400" transform="rotate(267.6)"/><use href="#tO" class="gy" transform="rotate(358.3)"/></g>
</g>
<circle id="strand-band" r="1019" fill="none" stroke="#666" stroke-width="7"/>
<g id="gene-numbers" class="num">
<text dy="0.35em" transform="rotate(3.5) translate(0,-990) rotate(-3.5)">1</text>
<text dy="0.35em" transform="rotate(10.5) translate(0,-938) rotate(-10.5)">2</text>
<text dy="0.35em" transform="rotate(15.3) translate(0,-990) rotate(-15.3)">3</text>
<text dy="0.35em" transform="rotate(24) translate(0,-990) rotate(-24)">4</text>
<text dy="0.35em" transform="rotate(36) translate(0,-990) rotate(-36)">5</text>
<text dy="0.35em" transform="rotate(43.5) translate(0,-990) rotate(-43.5)">6</text>
<text dy="0.35em" transform="rotate(47.3) translate(0,-990) rotate(-47.3)">7</text>
<text dy="0.35em" transform="rotate(49.8) translate(0,-985) rotate(-49.8)">8</text>
<text dy="0.35em" transform="rotate(54.5) translate(0,-990) rotate(-54.5)">9</text>
<text dy="0.35em" transform="rotate(61.5) translate(0,-990) rotate(-61.5)">10</text>
<text dy="0.35em" transform="rotate(66.2) translate(0,-990) rotate(-66.2)">11</text>
<text dy="0.35em" transform="rotate(69.2) translate(0,-990) rotate(-69.2)">12</text>
<text dy="0.35em" transform="rotate(72.1) translate(0,-990) rotate(-72.1)">13</text>
<text dy="0.35em" transform="rotate(74.7) translate(0,-990) rotate(-74.7)">14</text>
<text dy="0.35em" transform="rotate(77.3) translate(0,-990) rotate(-77.3)">15</text>
<text dy="0.35em" transform="rotate(80) translate(0,-990) rotate(-80)">16</text>
<text dy="0.35em" transform="rotate(84) translate(0,-990) rotate(-84)">17</text>
<text dy="0.35em" transform="rotate(88.5) translate(0,-990) rotate(-88.5)">18</text>
<text dy="0.35em" transform="rotate(91.8) translate(0,-990) rotate(-91.8)">19</text>
<text dy="0.35em" transform="rotate(110) translate(0,-990) rotate(-110)">20</text>
<text dy="0.35em" transform="rotate(136) translate(0,-990) rotate(-136)">21</text>
<text dy="0.35em" transform="rotate(160) translate(0,-990) rotate(-160)">22</text>
<text dy="0.35em" transform="rotate(177) translate(0,-990) rotate(-177)">23</text>
<text dy="0.35em" transform="rotate(182.3) translate(0,-990) rotate(-182.3)">24</text>
<text dy="0.35em" transform="rotate(185.9) translate(0,-990) rotate(-185.9)">25</text>
<text dy="0.35em" transform="rotate(190.4) translate(0,-990) rotate(-190.4)">26</text>
<text dy="0.35em" transform="rotate(196) translate(0,-938) rotate(-196)">27</text>
<text dy="0.35em" transform="rotate(199) translate(0,-938) rotate(-199)">28</text>
<text dy="0.35em" transform="rotate(202) translate(0,-938) rotate(-202)">29</text>
<text dy="0.35em" transform="rotate(204.8) translate(0,-938) rotate(-204.8)">30</text>
<text dy="0.35em" transform="rotate(207.6) translate(0,-938) rotate(-207.6)">31</text>
<text dy="0.35em" transform="rotate(213) translate(0,-938) rotate(-213)">32</text>
<text dy="0.35em" transform="rotate(221.5) translate(0,-938) rotate(-221.5)">33</text>
<text dy="0.35em" transform="rotate(227.5) translate(0,-938) rotate(-227.5)">34</text>
<text dy="0.35em" transform="rotate(231.5) translate(0,-938) rotate(-231.5)">35</text>
<text dy="0.35em" transform="rotate(240) translate(0,-938) rotate(-240)">36</text>
<text dy="0.35em" transform="rotate(253.5) translate(0,-938) rotate(-253.5)">37</text>
<text dy="0.35em" transform="rotate(259) translate(0,-990) rotate(-259)">38</text>
<text dy="0.35em" transform="rotate(263.6) translate(0,-990) rotate(-263.6)">39</text>
<text dy="0.35em" transform="rotate(265.9) translate(0,-990) rotate(-265.9)">40</text>
<text dy="0.35em" transform="rotate(268.7) translate(0,-936) rotate(-268.7)">41</text>
<text dy="0.35em" transform="rotate(271.5) translate(0,-990) rotate(-271.5)">42</text>
<text dy="0.35em" transform="rotate(273.6) translate(0,-990) rotate(-273.6)">43</text>
<text dy="0.35em" transform="rotate(276.8) translate(0,-990) rotate(-276.8)">44</text>
<text dy="0.35em" transform="rotate(281.2) translate(0,-990) rotate(-281.2)">45</text>
<text dy="0.35em" transform="rotate(285) translate(0,-990) rotate(-285)">46</text>
<text dy="0.35em" transform="rotate(288.2) translate(0,-990) rotate(-288.2)">47</text>
<text dy="0.35em" transform="rotate(292.8) translate(0,-990) rotate(-292.8)">48</text>
<text dy="0.35em" transform="rotate(297.2) translate(0,-990) rotate(-297.2)">49</text>
<text dy="0.35em" transform="rotate(299.8) translate(0,-985) rotate(-299.8)">50</text>
<text dy="0.35em" transform="rotate(302) translate(0,-995) rotate(-302)">51</text>
<text dy="0.35em" transform="rotate(305) translate(0,-990) rotate(-305)">52</text>
<text dy="0.35em" transform="rotate(307.5) translate(0,-995) rotate(-307.5)">53</text>
<text dy="0.35em" transform="rotate(310.5) translate(0,-1095) rotate(-310.5)">54</text>
<text dy="0.35em" transform="rotate(310.6) translate(0,-990) rotate(-310.6)">55</text>
<text dy="0.35em" transform="rotate(312.8) translate(0,-985) rotate(-312.8)">56</text>
<text dy="0.35em" transform="rotate(315.5) translate(0,-1095) rotate(-315.5)">57</text>
<text dy="0.35em" transform="rotate(316.2) translate(0,-990) rotate(-316.2)">58</text>
<text dy="0.35em" transform="rotate(320) translate(0,-1095) rotate(-320)">59</text>
<text dy="0.35em" transform="rotate(319.8) translate(0,-990) rotate(-319.8)">60</text>
<text dy="0.35em" transform="rotate(322.3) translate(0,-990) rotate(-322.3)">61</text>
<text dy="0.35em" transform="rotate(325) translate(0,-990) rotate(-325)">62</text>
<text dy="0.35em" transform="rotate(326) translate(0,-1090) rotate(-326)">63</text>
<text dy="0.35em" transform="rotate(329.5) translate(0,-1085) rotate(-329.5)">64</text>
<text dy="0.35em" transform="rotate(330.2) translate(0,-990) rotate(-330.2)">65</text>
<text dy="0.35em" transform="rotate(333.8) translate(0,-990) rotate(-333.8)">66</text>
<text dy="0.35em" transform="rotate(340) translate(0,-990) rotate(-340)">67</text>
<text dy="0.35em" transform="rotate(346) translate(0,-990) rotate(-346)">68</text>
<text dy="0.35em" transform="rotate(353.2) translate(0,-990) rotate(-353.2)">69</text>
<text dy="0.35em" transform="rotate(355.9) translate(0,-990) rotate(-355.9)">70</text>
<text dy="0.35em" transform="rotate(358.6) translate(0,-990) rotate(-358.6)">71</text>
</g>
</g>
<g id="connectors">
<path d="M1838 285 q7 8 0 16 t0 16 t0 16 t0 16 t0 16 t0 16 t0 16 t0 16 t0 16 t0 16 t0 16 t0 16 t0 16 t0 16 t0 16 t0 16 t0 16 t0 16 t0 16 t0 16 t0 16 t0 16 t0 16 t0 16 t0 16 t0 16 t0 16 t0 16 t0 16 t0 16 t0 16 t0 16 t0 16 t0 16 t0 16 t0 16 t0 16 t0 16 t0 16 t0 16" fill="none" stroke="#143414" stroke-width="4"/>
</g>
<g id="kbp-labels" class="kb">
<text x="1644" y="1044">45 kbp</text>
<text x="2037" y="1053">5 kbp</text>
<text x="1496" y="1236">40 kbp</text>
<text x="2170" y="1236">10 kbp</text>
<text x="1493" y="1469">35 kbp</text>
<text x="2180" y="1483">15 kbp</text>
<text x="1623" y="1678">30 kbp</text>
<text x="2061" y="1675">20 kbp</text>
<text x="1837" y="1756">25 kbp</text>
</g>
<g id="annotations" class="lab">
<text x="1890" y="278" transform="rotate(-40 1890 278)">TerS</text>
<text x="2036" y="240" transform="rotate(-23 2036 240)">XerC/XerD</text>
<text x="2107" y="290" transform="rotate(-23 2107 290)">site-specific recombinase</text>
<text x="2275" y="352" transform="rotate(-30 2275 352)">TerL</text>
<text x="2457" y="452" transform="rotate(-26 2457 452)">portal protein</text>
<text x="2595" y="582" transform="rotate(-18 2595 582)">minor capsid protein</text>
<text x="2718" y="708" transform="rotate(-14 2718 708)">prohead (maturation) protease</text>
<text x="2800" y="864" transform="rotate(-11.5 2800 864)">major capsid protein</text>
<text x="2848" y="962" transform="rotate(-9 2848 962)">head completion protein I</text>
<text x="2897" y="1014" transform="rotate(-7.7 2897 1014)">head completion protein II</text>
<text x="2892" y="1068" transform="rotate(-6.6 2892 1068)">tail completion protein</text>
<text x="2895" y="1122" transform="rotate(-6.4 2895 1122)">tail tube terminator</text>
<text x="2912" y="1230" transform="rotate(-3 2912 1230)">tail tube protein</text>
<text x="2922" y="1327" transform="rotate(-1.5 2922 1327)">putative tail assembly chaperone I</text>
<text x="2922" y="1380" transform="rotate(-0.5 2922 1380)">putative tail assembly chaperone II</text>
<text x="2877" y="1740" transform="rotate(11.5 2877 1740)">tape measure protein</text>
<text x="2636" y="2122" transform="rotate(12 2636 2122)">distal tail protein</text>
<text x="2422" y="2310" transform="rotate(16 2422 2310)">baseplate hub protein/central tail fiber</text>
<text x="1765" y="2452" transform="rotate(48 1765 2452)">holin</text>
<text x="1705" y="2460" transform="rotate(46 1705 2460)">holin</text>
<text x="1607" y="2440" transform="rotate(45 1607 2440)">peptidoglycan</text>
<text x="1575" y="2488" transform="rotate(43 1575 2488)">hydrolase</text>
<g text-anchor="end">
<text x="1796" y="268" transform="rotate(28 1796 268)">DnaJ-domain protein</text>
<text x="1582" y="290" transform="rotate(23 1582 290)">DNA modification methylase</text>
<text x="1288" y="322" transform="rotate(17 1288 322)">ArpU-family</text>
<text x="1349" y="392" transform="rotate(17 1349 392)">transcriptional regulator</text>
<text x="1062" y="592" transform="rotate(23 1062 592)">DnaJ-domain protein</text>
<text x="788" y="1038" transform="rotate(11 788 1038)">cell division protein SepF</text>
<text x="779" y="1095" transform="rotate(10 779 1095)">AbrB/MazE/SpoVT</text>
<text x="758" y="1152" transform="rotate(8 758 1152)">family protein</text>
<text x="758" y="1240" transform="rotate(5 758 1240)">Holliday-junction resolvase</text>
<text x="758" y="1340" transform="rotate(1 758 1340)">XRE-family transcriptional regulator</text>
<text x="758" y="1405" transform="rotate(1 758 1405)">XRE-family transcriptional regulator</text>
<text x="730" y="1502" transform="rotate(2 730 1502)">AimP-like protein</text>
<text x="747" y="1615" transform="rotate(-6 747 1615)">AimR-like protein</text>
<text x="777" y="1710" transform="rotate(-6.5 777 1710)">XRE-family transcriptional regulator</text>
<text x="887" y="1915" transform="rotate(-14.5 887 1915)">RepA-like replication initiator protein</text>
<text x="1097" y="2180" transform="rotate(-20.5 1097 2180)">XerC/XerD site-specific recombinase</text>
<text x="1237" y="2270" transform="rotate(-29 1237 2270)">ParM-family protein</text>
<text x="1335" y="2327" transform="rotate(-28 1335 2327)">putative ParG-like protein</text>
</g>
</g>
</svg>
